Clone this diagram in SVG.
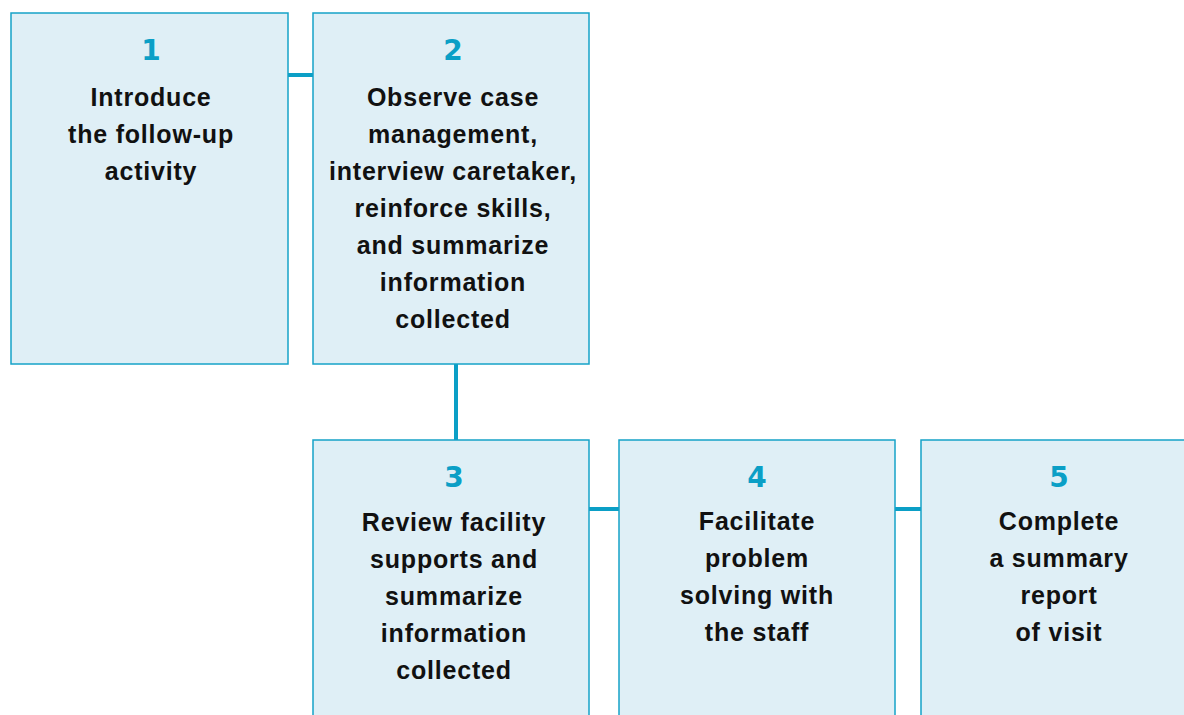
<svg xmlns="http://www.w3.org/2000/svg" width="1184" height="715" viewBox="0 0 1184 715">
  <style>
    .box { fill: #dfeff6; stroke: #16a3c8; stroke-width: 1.5; }
    .link { stroke: #0b9fc6; stroke-width: 4; fill: none; }
    .num { font-family: "DejaVu Sans", "Liberation Sans", sans-serif; font-weight: 900; font-size: 28px; fill: #0b9fc6; text-anchor: middle; }
    .lbl { font-family: "Liberation Sans", Arial, sans-serif; font-weight: bold; font-size: 25px; letter-spacing: 0.8px; fill: #111; text-anchor: middle; }
  </style>
  <rect width="1184" height="715" fill="#ffffff"/>

  <g id="connectors">
    <line class="link" x1="288" y1="75" x2="313" y2="75"/>
    <line class="link" x1="456" y1="364" x2="456" y2="440"/>
    <line class="link" x1="589" y1="509" x2="619" y2="509"/>
    <line class="link" x1="895" y1="509" x2="921" y2="509"/>
  </g>

  <g id="step1">
    <rect class="box" x="11" y="13" width="277" height="351"/>
    <text class="num" x="151" y="60">1</text>
    <text class="lbl" x="151" y="106">Introduce</text>
    <text class="lbl" x="151" y="143">the follow-up</text>
    <text class="lbl" x="151" y="180">activity</text>
  </g>

  <g id="step2">
    <rect class="box" x="313" y="13" width="276" height="351"/>
    <text class="num" x="453" y="60">2</text>
    <text class="lbl" x="453" y="106">Observe case</text>
    <text class="lbl" x="453" y="143">management,</text>
    <text class="lbl" x="453" y="180">interview caretaker,</text>
    <text class="lbl" x="453" y="217">reinforce skills,</text>
    <text class="lbl" x="453" y="254">and summarize</text>
    <text class="lbl" x="453" y="291">information</text>
    <text class="lbl" x="453" y="328">collected</text>
  </g>

  <g id="step3">
    <rect class="box" x="313" y="440" width="276" height="290"/>
    <text class="num" x="454" y="487">3</text>
    <text class="lbl" x="454" y="531">Review facility</text>
    <text class="lbl" x="454" y="568">supports and</text>
    <text class="lbl" x="454" y="605">summarize</text>
    <text class="lbl" x="454" y="642">information</text>
    <text class="lbl" x="454" y="679">collected</text>
  </g>

  <g id="step4">
    <rect class="box" x="619" y="440" width="276" height="290"/>
    <text class="num" x="757" y="487">4</text>
    <text class="lbl" x="757" y="530">Facilitate</text>
    <text class="lbl" x="757" y="567">problem</text>
    <text class="lbl" x="757" y="604">solving with</text>
    <text class="lbl" x="757" y="641">the staff</text>
  </g>

  <g id="step5">
    <rect class="box" x="921" y="440" width="276" height="290"/>
    <text class="num" x="1059" y="487">5</text>
    <text class="lbl" x="1059" y="530">Complete</text>
    <text class="lbl" x="1059" y="567">a summary</text>
    <text class="lbl" x="1059" y="604">report</text>
    <text class="lbl" x="1059" y="641">of visit</text>
  </g>
</svg>
